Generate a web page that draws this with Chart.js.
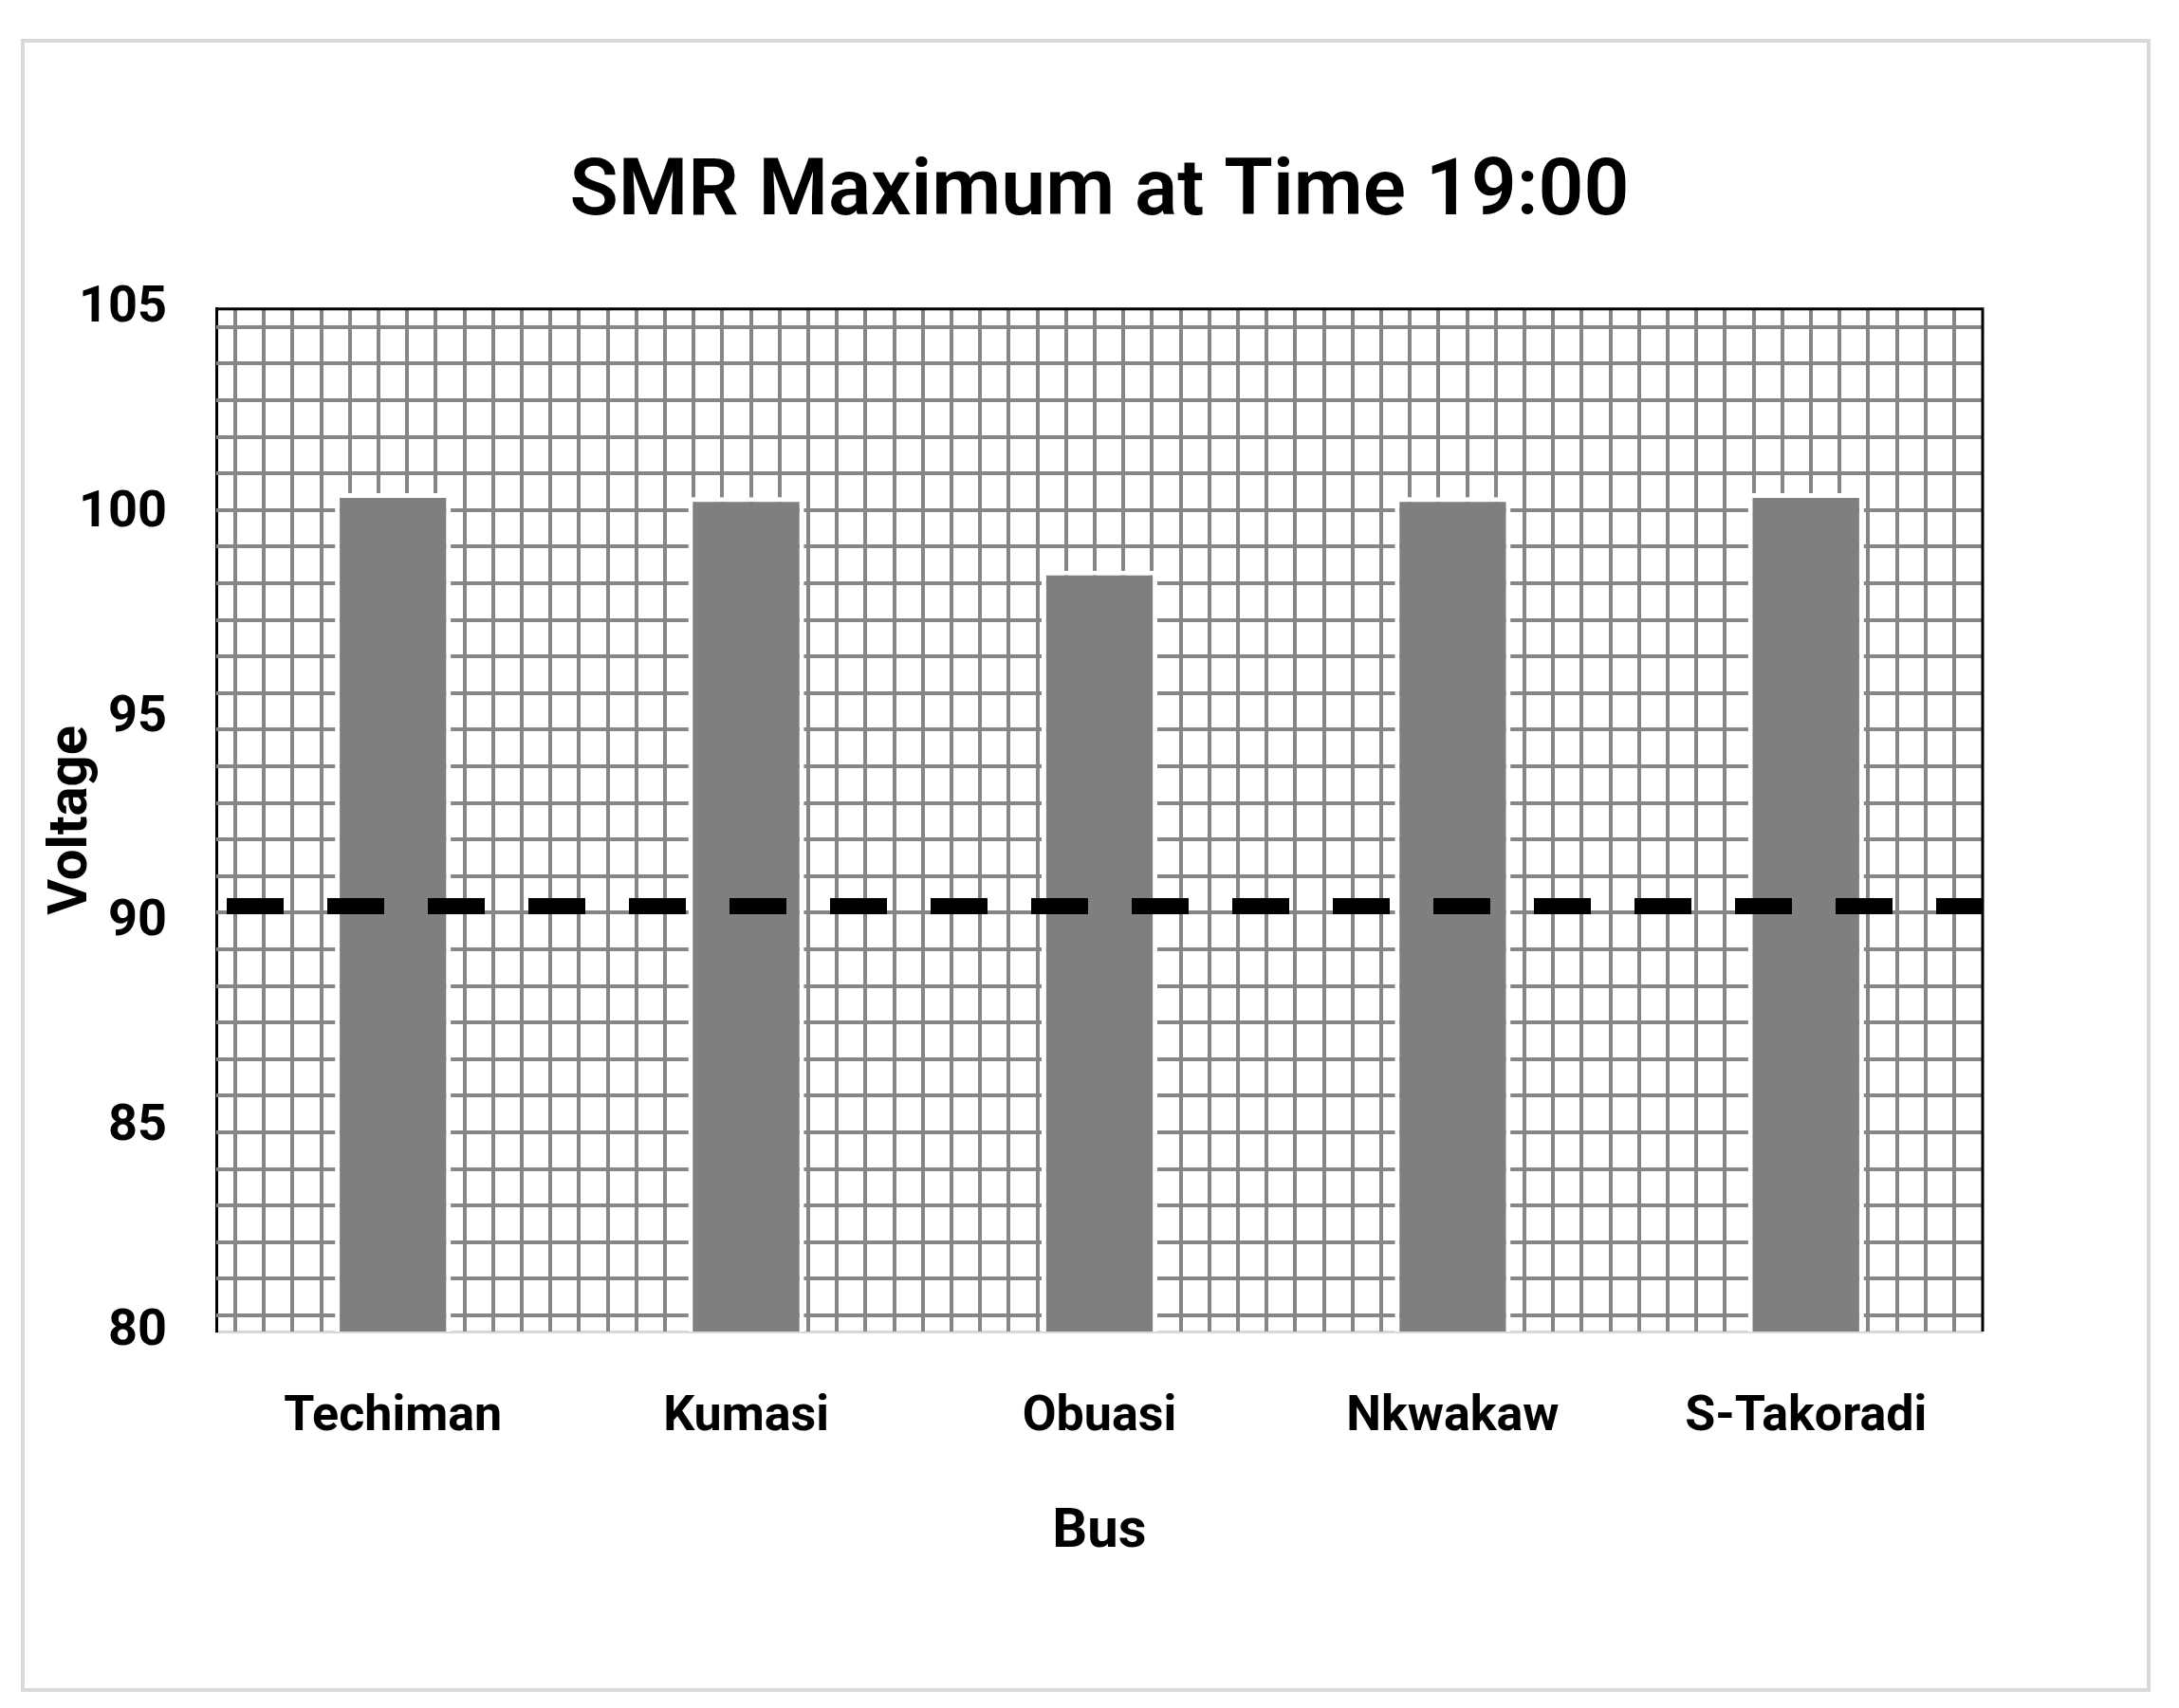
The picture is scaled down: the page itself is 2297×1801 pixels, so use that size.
<!DOCTYPE html>
<html><head><meta charset="utf-8">
<script src="https://cdn.jsdelivr.net/npm/chart.js@4.4.1/dist/chart.umd.min.js"></script>
<style>html,body{margin:0;padding:0;background:#fff}#wrap{width:2297px;height:1801px}</style>
</head><body><div id="wrap"><canvas id="c" width="2297" height="1801"></canvas></div>
<script>
const categories = ['Techiman', 'Kumasi', 'Obuasi', 'Nkwakaw', 'S-Takoradi'];
const voltage = [100.5, 100.4, 98.6, 100.4, 100.5];
const limitX = [0, 1];
const limitY = [90.4, 90.4];
const yMin = 80, yMax = 105, yStep = 5;

const FONT = "Roboto, 'Noto Sans', sans-serif";

const frame = {
  id: 'frame',
  beforeDraw(chart) {
    const ctx = chart.ctx;
    ctx.save();
    ctx.fillStyle = '#fff';
    ctx.fillRect(0, 0, chart.width, chart.height);
    ctx.strokeStyle = '#d9d9d9';
    ctx.lineWidth = 4;
    ctx.strokeRect(24, 43, 2241, 1739);
    ctx.restore();
  },
  beforeDatasetsDraw(chart) {
    const {ctx, chartArea: a} = chart;
    ctx.save();
    ctx.beginPath();
    ctx.rect(a.left, a.top, a.right - a.left, a.bottom - a.top);
    ctx.clip();
    ctx.strokeStyle = '#868686';
    ctx.lineWidth = 4;
    ctx.beginPath();
    for (let y = a.top + 19; y < a.bottom; y += 38.6) {
      ctx.moveTo(a.left, Math.round(y));
      ctx.lineTo(a.right, Math.round(y));
    }
    for (let x = a.left + 20; x < a.right; x += 30.2) {
      ctx.moveTo(Math.round(x), a.top);
      ctx.lineTo(Math.round(x), a.bottom);
    }
    ctx.stroke();
    ctx.restore();
    ctx.save();
    ctx.strokeStyle = '#000';
    ctx.lineWidth = 3;
    ctx.beginPath();
    ctx.moveTo(a.left, a.top);
    ctx.lineTo(a.right, a.top);
    ctx.lineTo(a.right, a.bottom);
    ctx.stroke();
    ctx.restore();
  }
};

new Chart(document.getElementById('c'), {
  type: 'bar',
  data: {
    labels: categories,
    datasets: [
      {
        type: 'line',
        label: 'Limit',
        xAxisID: 'xLine',
        stack: 'g',
        data: limitX.map((x, i) => ({x: x, y: limitY[i]})),
        borderColor: '#000',
        borderWidth: 17,
        borderDash: [60, 46],
        borderDashOffset: 95,
        borderCapStyle: 'butt',
        pointRadius: 0,
        fill: false,
        order: 0
      },
      {
        type: 'bar',
        label: 'Voltage',
        xAxisID: 'x',
        stack: 'g',
        grouped: false,
        data: voltage,
        backgroundColor: '#7f7f7f',
        borderColor: '#ffffff',
        borderWidth: 5,
        categoryPercentage: 1,
        barPercentage: 0.328,
        order: 1
      }
    ]
  },
  options: {
    responsive: false,
    animation: false,
    devicePixelRatio: 1,
    layout: {padding: {top: 155, left: 30, right: 207, bottom: 150}},
    plugins: {
      legend: {display: false},
      tooltip: {enabled: false},
      title: {
        display: true,
        text: 'SMR Maximum at Time 19:00',
        fullSize: false,
        color: '#000',
        font: {family: FONT, size: 84, weight: '600'},
        padding: {top: 0, bottom: 70}
      }
    },
    scales: {
      x: {
        type: 'category',
        offset: true,
        grid: {display: false, drawTicks: false, offset: true},
        border: {display: true, color: '#d9d9d9', width: 3},
        ticks: {color: '#000', font: {family: FONT, size: 52, weight: 'bold'}, padding: 60},
        title: {display: true, text: 'Bus', color: '#000', font: {family: FONT, size: 58, weight: 'bold'}, padding: {top: 0, bottom: 0}},
        afterFit(s) { s.height = 247; }
      },
      xLine: {type: 'linear', display: false, offset: false, min: 0, max: 1, grid: {offset: false}},
      y: {
        type: 'linear',
        stacked: false,
        min: yMin, max: yMax,
        grid: {display: false, drawTicks: false},
        border: {display: true, color: '#000', width: 3},
        ticks: {stepSize: yStep, color: '#000', font: {family: FONT, size: 54, weight: 'bold'}, padding: 52},
        title: {display: true, text: 'Voltage', color: '#000', font: {family: FONT, size: 58, weight: 'bold'}, padding: {top: 12, bottom: 0}},
        afterFit(s) { s.width = 198; }
      }
    }
  },
  plugins: [frame]
});
</script></body></html>
